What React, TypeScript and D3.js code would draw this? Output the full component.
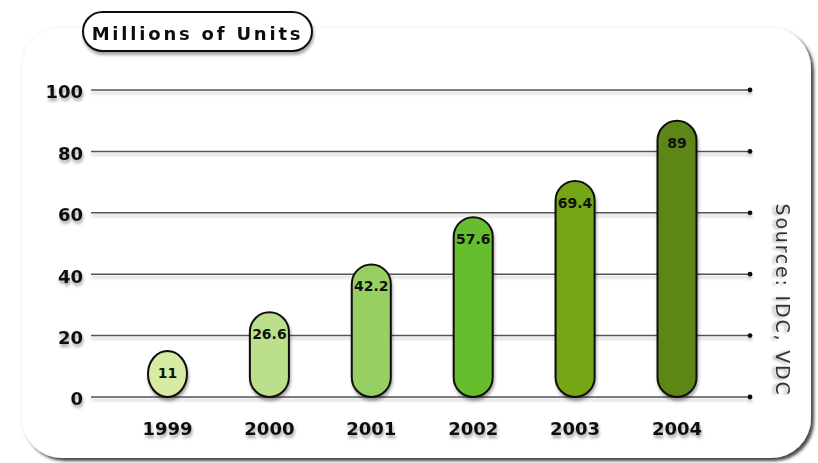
import React from "react";
import * as d3 from "d3";

const years = ["1999", "2000", "2001", "2002", "2003", "2004"];
const values = [11, 26.6, 42.2, 57.6, 69.4, 89];
const valueLabels = ["11", "26.6", "42.2", "57.6", "69.4", "89"];
const barColors = ["#d7eca2", "#bbdf8b", "#98cf63", "#66bd2e", "#74a618", "#5d8612"];
const yTicks = [0, 20, 40, 60, 80, 100];
const title = "Millions of Units";
const source = "Source: IDC, VDC";

const W = 818;
const H = 463;
const FONT = "'DejaVu Sans', Verdana, sans-serif";

export default function App() {
  const y = d3.scaleLinear().domain([0, 100]).range([397, 90]);
  const x = d3.scalePoint<string>().domain(years).range([167.5, 677]);
  const barW = 39;
  const gridX0 = 91;
  const gridX1 = 750;
  const minH = 46;

  const barTop = (v: number) => Math.min(y(v) - 3, y(0) - minH);

  return (
    <div style={{ position: "fixed", left: 0, top: 0, width: W, height: H, background: "#fff" }}>
      <svg width={W} height={H} viewBox={`0 0 ${W} ${H}`} style={{ display: "block" }}>
        <defs>
          <filter id="panelShadow" x="-5%" y="-5%" width="110%" height="110%">
            <feDropShadow dx="0" dy="0" stdDeviation="2" floodColor="#000" floodOpacity="0.08" />
            <feDropShadow dx="3" dy="3" stdDeviation="1.6" floodColor="#000" floodOpacity="0.7" />
          </filter>
          <filter id="soft" x="-20%" y="-20%" width="140%" height="160%">
            <feDropShadow dx="1" dy="3" stdDeviation="1.6" floodColor="#000" floodOpacity="0.35" />
          </filter>
          <filter id="lineShadow" x="-5%" y="-300%" width="110%" height="700%">
            <feDropShadow dx="0" dy="3" stdDeviation="1.5" floodColor="#000" floodOpacity="0.22" />
          </filter>
        </defs>

        {/* panel */}
        <rect x={22} y={28} width={789} height={430} rx={40} ry={40} fill="#fff" filter="url(#panelShadow)" />

        {/* title pill */}
        <g filter="url(#soft)">
          <rect x={83} y={12} width={229} height={39} rx={19.5} ry={19.5} fill="#fff" stroke="#111" strokeWidth={2} />
          <text
            x={197.5}
            y={39.5}
            textAnchor="middle"
            fontFamily={FONT}
            fontWeight="bold"
            fontSize={18}
            letterSpacing={2.8}
            fill="#111"
          >
            {title}
          </text>
        </g>

        {/* gridlines */}
        <g filter="url(#lineShadow)">
          {yTicks.map((t) => (
            <g key={t}>
              <line x1={gridX0} x2={gridX1} y1={y(t)} y2={y(t)} stroke="#555" strokeWidth={1.5} />
              <circle cx={gridX1} cy={y(t)} r={2.4} fill="#111" />
            </g>
          ))}
        </g>

        {/* y tick labels */}
        <g filter="url(#soft)">
          {yTicks.map((t) => (
            <text
              key={t}
              x={83}
              y={y(t) + 2}
              dy="0.36em"
              textAnchor="end"
              fontFamily={FONT}
              fontWeight="bold"
              fontSize={18}
              fill="#111"
            >
              {t}
            </text>
          ))}
        </g>

        {/* bars */}
        <g filter="url(#soft)">
          {years.map((yr, i) => {
            const top = barTop(values[i]);
            const h = y(0) - top;
            const cx = x(yr) as number;
            const ry = h < barW * 1.5 ? h / 2 : barW / 2;
            return (
              <rect
                key={yr}
                x={cx - barW / 2}
                y={top}
                width={barW}
                height={h}
                rx={barW / 2}
                ry={ry}
                fill={barColors[i]}
                stroke="#111"
                strokeWidth={2}
              />
            );
          })}
        </g>

        {/* value labels */}
        {years.map((yr, i) => {
          const top = barTop(values[i]);
          return (
            <text
              key={yr}
              x={x(yr) as number}
              y={top + 22}
              dy="0.36em"
              textAnchor="middle"
              fontFamily={FONT}
              fontWeight="bold"
              fontSize={14}
              fill="#111"
            >
              {valueLabels[i]}
            </text>
          );
        })}

        {/* year labels */}
        <g filter="url(#soft)">
          {years.map((yr) => (
            <text
              key={yr}
              x={x(yr) as number}
              y={435}
              textAnchor="middle"
              fontFamily={FONT}
              fontWeight="bold"
              fontSize={18}
              fill="#111"
            >
              {yr}
            </text>
          ))}
        </g>

        {/* source */}
        <text
          transform="translate(776,300) rotate(90)"
          textAnchor="middle"
          fontFamily={FONT}
          fontSize={19}
          letterSpacing={1.8}
          fill="#333"
          filter="url(#soft)"
        >
          {source}
        </text>
      </svg>
    </div>
  );
}
